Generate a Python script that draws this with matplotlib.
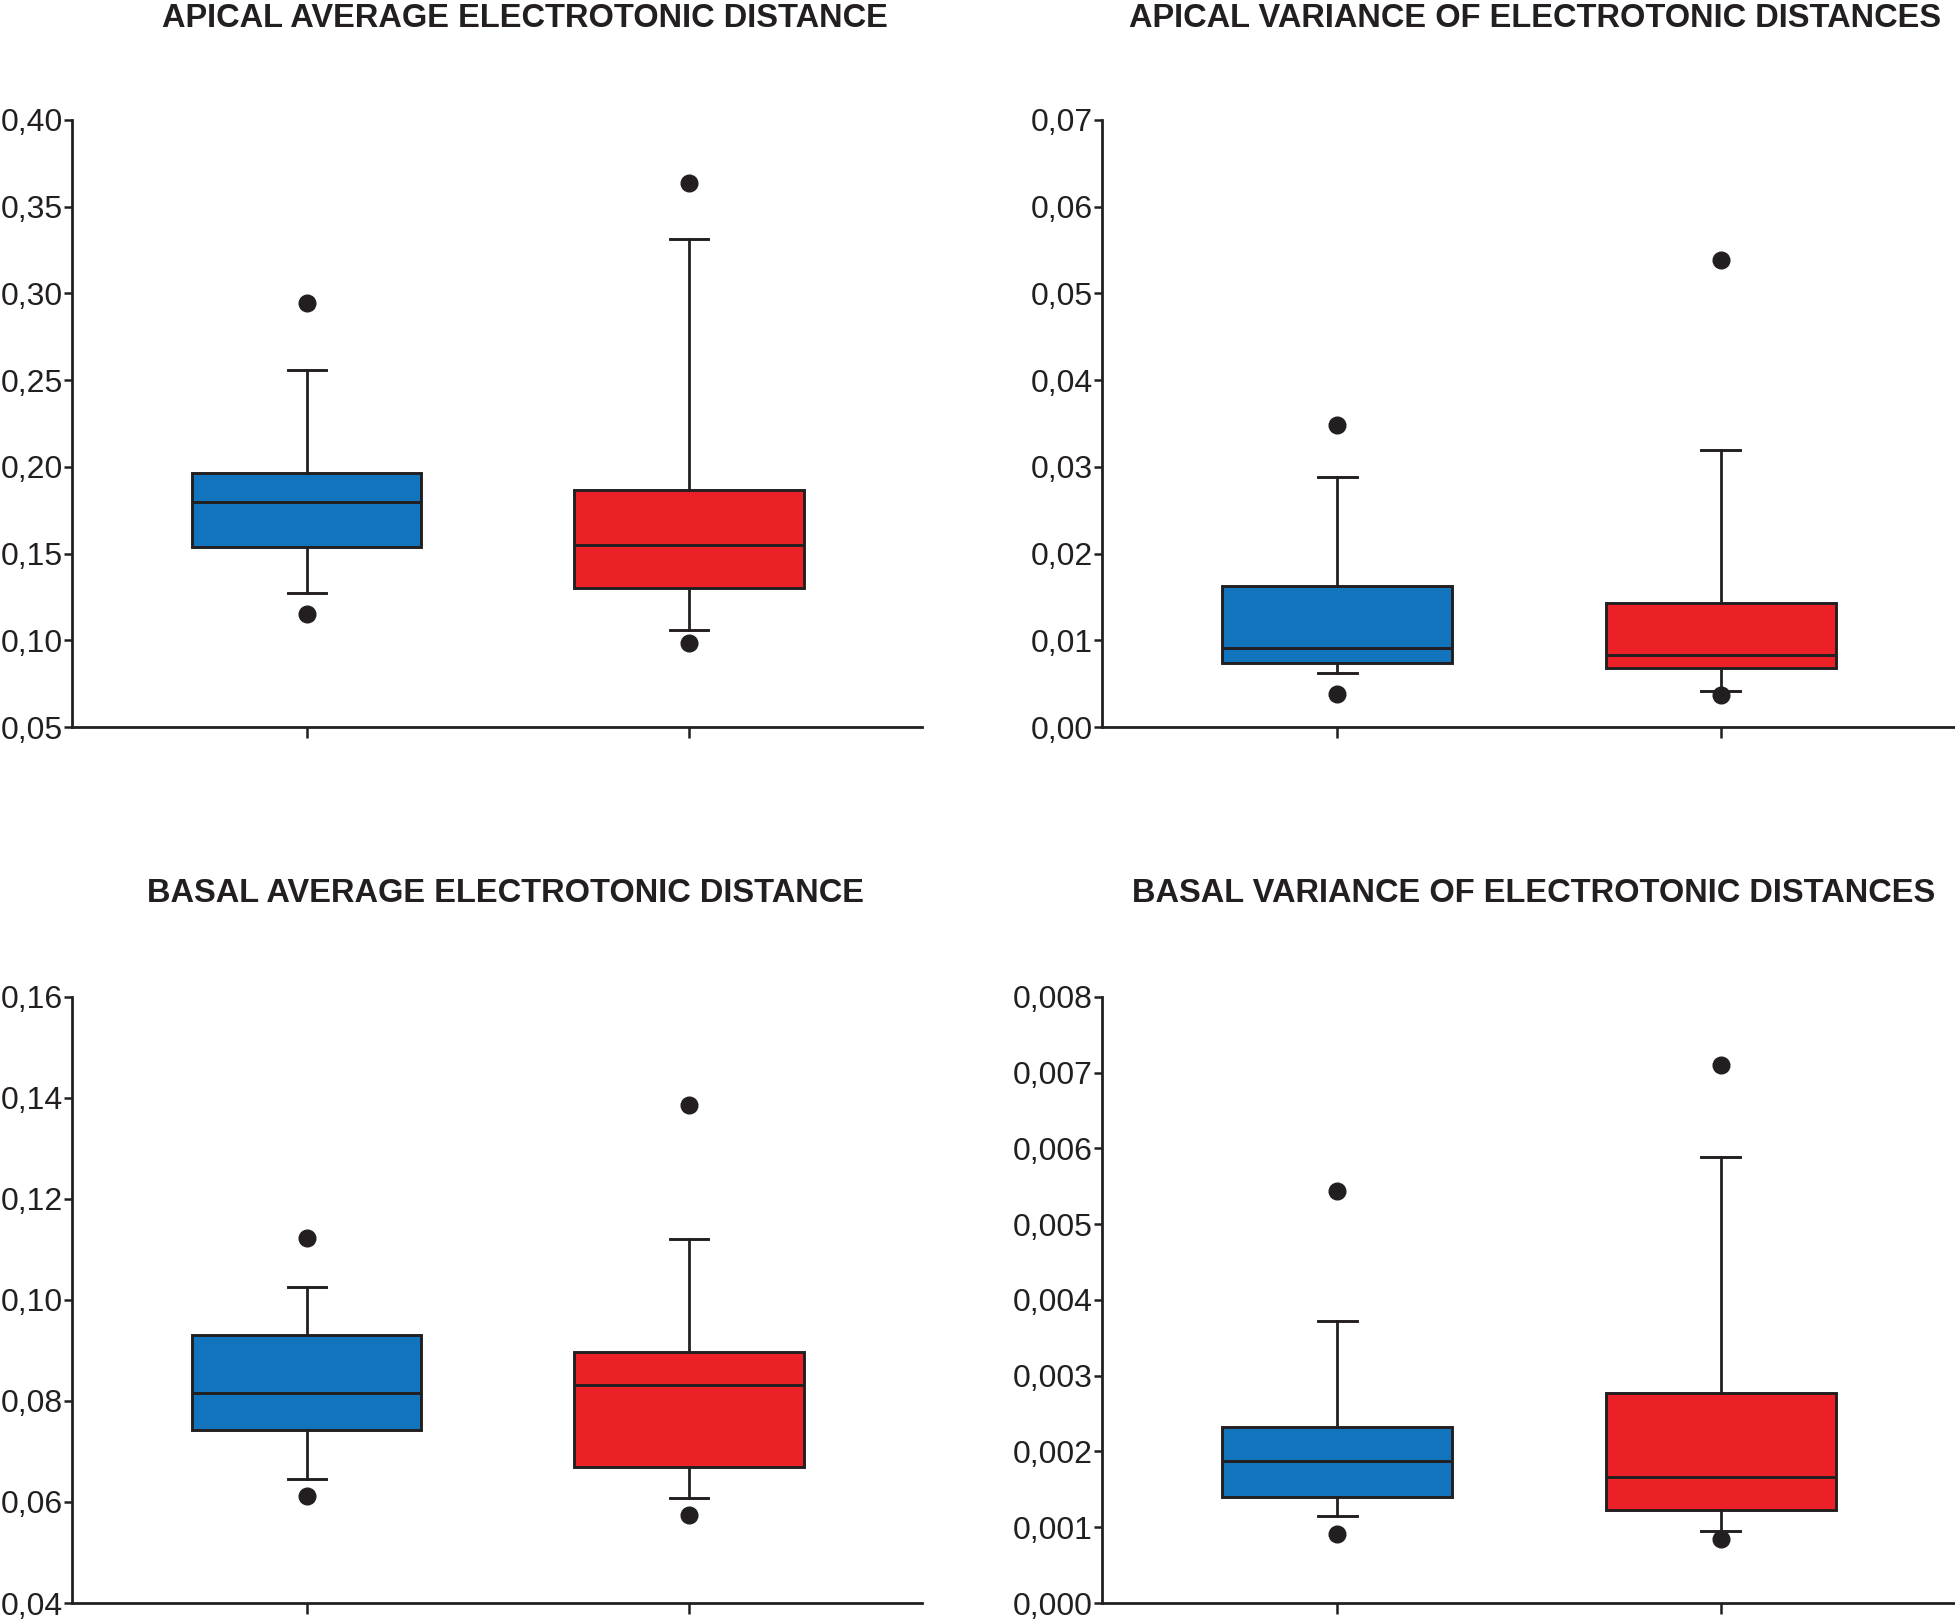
import matplotlib
matplotlib.use("Agg")
import matplotlib.pyplot as plt
from matplotlib import font_manager
from matplotlib.ticker import FuncFormatter

# pick a condensed sans if available
names = {f.name for f in font_manager.fontManager.ttflist}
fam = 'Liberation Sans Narrow' if 'Liberation Sans Narrow' in names else 'Liberation Sans'
plt.rcParams['font.family'] = [fam, 'DejaVu Sans']

BLUE = '#1174bd'
RED = '#ec2027'
INK = '#231f20'

titles = ["APICAL AVERAGE ELECTROTONIC DISTANCE",
          "APICAL VARIANCE OF ELECTROTONIC DISTANCES",
          "BASAL AVERAGE ELECTROTONIC DISTANCE",
          "BASAL VARIANCE OF ELECTROTONIC DISTANCES"]

# [whislo, q1, median, q3, whishi] per group (blue, red)
apical_avg_blue = [0.1271, 0.1538, 0.1796, 0.1965, 0.2561]
apical_avg_red = [0.1059, 0.1300, 0.1549, 0.1864, 0.3312]
apical_avg_fliers = [[0.2945, 0.1154], [0.3639, 0.0982]]

apical_var_blue = [0.0062, 0.0074, 0.0091, 0.0163, 0.0288]
apical_var_red = [0.0041, 0.0068, 0.0083, 0.0143, 0.0320]
apical_var_fliers = [[0.0348, 0.0038], [0.0539, 0.0037]]

basal_avg_blue = [0.0645, 0.0742, 0.0816, 0.0930, 0.1026]
basal_avg_red = [0.0608, 0.0670, 0.0832, 0.0897, 0.1120]
basal_avg_fliers = [[0.1122, 0.0611], [0.1385, 0.0575]]

basal_var_blue = [0.001145, 0.001394, 0.001872, 0.002324, 0.003725]
basal_var_red = [0.000949, 0.001224, 0.001669, 0.002769, 0.005885]
basal_var_fliers = [[0.005434, 0.000916], [0.007097, 0.000844]]

yticks = [[0.05, 0.10, 0.15, 0.20, 0.25, 0.30, 0.35, 0.40],
          [0.00, 0.01, 0.02, 0.03, 0.04, 0.05, 0.06, 0.07],
          [0.04, 0.06, 0.08, 0.10, 0.12, 0.14, 0.16],
          [0.000, 0.001, 0.002, 0.003, 0.004, 0.005, 0.006, 0.007, 0.008]]
decimals = [2, 2, 2, 3]

panels = [(apical_avg_blue, apical_avg_red, apical_avg_fliers),
          (apical_var_blue, apical_var_red, apical_var_fliers),
          (basal_avg_blue, basal_avg_red, basal_avg_fliers),
          (basal_var_blue, basal_var_red, basal_var_fliers)]

fig = plt.figure(figsize=(19.55, 16.21), dpi=100)

rects = [[0.0368, 0.5515, 0.435, 0.3745],
         [0.5637, 0.5515, 0.436, 0.3745],
         [0.0368, 0.0111, 0.435, 0.3740],
         [0.5637, 0.0111, 0.436, 0.3740]]
title_pos = [(0.2685, 0.9885), (0.785, 0.9885), (0.2588, 0.4485), (0.7847, 0.4485)]

def make_stats(vals, fl):
    return dict(whislo=vals[0], q1=vals[1], med=vals[2], q3=vals[3], whishi=vals[4], fliers=fl)

for i in range(4):
    blue, red, fliers = panels[i]
    ax = fig.add_axes(rects[i])
    stats = [make_stats(blue, fliers[0]), make_stats(red, fliers[1])]
    bp = ax.bxp(stats, positions=[1, 2], widths=0.6, capwidths=0.1,
                patch_artist=True, showfliers=True,
                boxprops=dict(linewidth=2.1, edgecolor=INK),
                medianprops=dict(color=INK, linewidth=2.1),
                whiskerprops=dict(color=INK, linewidth=2.0),
                capprops=dict(color=INK, linewidth=2.1),
                flierprops=dict(marker='o', markerfacecolor=INK,
                                markeredgecolor=INK, markersize=12))
    bp['boxes'][0].set_facecolor(BLUE)
    bp['boxes'][1].set_facecolor(RED)

    ax.set_xlim(0.386, 2.61)
    ax.set_ylim(yticks[i][0], yticks[i][-1])
    ax.set_yticks(yticks[i])
    d = decimals[i]
    ax.yaxis.set_major_formatter(FuncFormatter(lambda v, p, d=d: f"{v:.{d}f}".replace('.', ',')))
    ax.set_xticks([1, 2])
    ax.set_xticklabels([])
    for s in ['top', 'right']:
        ax.spines[s].set_visible(False)
    for s in ['left', 'bottom']:
        ax.spines[s].set_linewidth(2.0)
        ax.spines[s].set_color(INK)
        ax.spines[s].set_clip_on(False)
    ax.tick_params(axis='y', direction='out', length=5.5, width=1.8, pad=1,
                   labelsize=23, colors=INK)
    ax.tick_params(axis='x', direction='out', length=8, width=1.8, colors=INK)
    for ln in ax.lines:
        ln.set_clip_on(False)

    fig.text(title_pos[i][0], title_pos[i][1], titles[i], ha='center', va='center',
             fontsize=23.5, fontweight='bold', color=INK)

fig.savefig('out.png', dpi=100)
